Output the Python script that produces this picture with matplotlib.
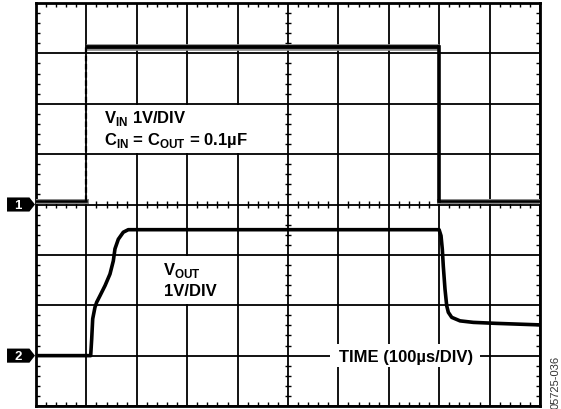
import numpy as np
import matplotlib.pyplot as plt
from matplotlib.patches import Polygon, Rectangle

plt.rcParams["font.family"] = ["Liberation Sans", "DejaVu Sans"]
plt.rcParams["mathtext.fontset"] = "custom"

# scope setup: 10 x 8 divisions, 100 us/div, 1 V/div on both channels
TIME_PER_DIV = 100
N_HDIV, N_VDIV = 10, 8
CH1_GND = 4.0   # ground level of channel 1, in divisions from the bottom
CH2_GND = 1.0   # ground level of channel 2

# channel 1: VIN step (us, V)
vin_t = [0, 100, 100, 800, 800, 1000]
vin_v = [0.06, 0.06, 3.13, 3.13, 0.06, 0.06]

# channel 2: VOUT response (us, V)
vout_t = [0, 108.5, 110.5, 112.5, 117, 120.4, 127, 137, 146.8, 153.4, 156.7,
          163.3, 173.2, 183.1, 799.8, 803.6, 806.2, 808.1, 811.5, 814.9,
          818.1, 824.8, 841.3, 867.7, 914.1, 1000]
vout_v = [0.0, 0.0, 0.33, 0.73, 0.96, 1.06, 1.19, 1.39, 1.62, 1.88, 2.12,
          2.31, 2.45, 2.50, 2.50, 2.38, 2.11, 1.78, 1.32, 0.99,
          0.86, 0.76, 0.69, 0.66, 0.64, 0.61]

fig = plt.figure(figsize=(5.61, 4.10), dpi=100)
ax = fig.add_axes([36 / 561, 3 / 410, 504 / 561, 403 / 410])
t_max = N_HDIV * TIME_PER_DIV
ax.set_xlim(0, t_max)
ax.set_ylim(0, N_VDIV)

# graticule
ax.set_xticks(np.arange(0, t_max + 1, TIME_PER_DIV))
ax.set_yticks(np.arange(0, N_VDIV + 1))
ax.set_xticks(np.arange(0, t_max + 1, TIME_PER_DIV / 5), minor=True)
ax.set_yticks(np.arange(0, N_VDIV + 0.01, 0.2), minor=True)
ax.grid(True, which="major", color="black", lw=1.3, zorder=1)
ax.tick_params(which="major", length=0, labelbottom=False, labelleft=False)
ax.tick_params(which="minor", direction="in", length=3.2, width=1.0,
               top=True, right=True, color="black")
for s in ax.spines.values():
    s.set_linewidth(2.0)

# tick marks along the centre cross
mx = np.arange(0, t_max + 1, TIME_PER_DIV / 5)
mx = mx[mx % TIME_PER_DIV != 0]
my = np.arange(0, N_VDIV + 0.01, 0.2)
my = my[np.abs(my - np.round(my)) > 1e-6]
ax.vlines(mx, N_VDIV / 2 - 0.065, N_VDIV / 2 + 0.065, color="black", lw=1.0, zorder=1)
ax.hlines(my, t_max / 2 - 6.5, t_max / 2 + 6.5, color="black", lw=1.0, zorder=1)

# label backgrounds
for (x0, y0, w, h) in [(104, 5.03, 340, 0.94), (204, 2.03, 192, 0.94), (583, 0.77, 298, 0.46)]:
    ax.add_patch(Rectangle((x0, y0), w, h, facecolor="white", edgecolor="none", zorder=2))

# channel 1 trace
y1 = [CH1_GND + v for v in vin_v]
ax.plot(vin_t[2:4], y1[2:4], color="#8a8a8a", lw=4.8, zorder=3, solid_capstyle="butt")
ax.plot(vin_t[2:4], y1[2:4], color="black", lw=2.7, zorder=4, solid_capstyle="butt")
for a, b in [(0, 2), (4, 6)]:
    ax.plot(vin_t[a:b], y1[a:b], color="#8a8a8a", lw=3.6, zorder=3)
    ax.plot(vin_t[a:b], y1[a:b], color="black", lw=1.8, zorder=4)
ax.plot(vin_t[1:3], y1[1:3], color="black", lw=1.6, ls=(0, (2.5, 1.2)), zorder=4)
ax.plot(vin_t[3:5], y1[3:5], color="black", lw=2.6, zorder=4)

# channel 2 trace
y2 = [CH2_GND + v for v in vout_v]
ax.plot(vout_t, y2, color="black", lw=2.6, zorder=4, solid_joinstyle="round")

# annotations
txt = dict(fontsize=12, fontweight="bold", color="black", zorder=5, va="baseline")
ax.text(134, 5.63, r"V$_\mathregular{IN}$ 1V/DIV", **txt)
ax.text(134, 5.21, r"C$_\mathregular{IN}$ = C$_\mathregular{OUT}$ = 0.1µF", **txt)
ax.text(251, 2.62, r"V$_\mathregular{OUT}$", **txt)
ax.text(253, 2.20, "1V/DIV", **txt)
ax.text(735, 0.90, "TIME (100µs/DIV)", ha="center", **txt)

# channel ground tags
for gnd, name in [(CH1_GND, "1"), (CH2_GND, "2")]:
    pts = [(-57.5, gnd - 0.14), (-13, gnd - 0.14), (-2, gnd),
           (-13, gnd + 0.14), (-57.5, gnd + 0.14)]
    ax.add_patch(Polygon(pts, closed=True, facecolor="black", edgecolor="none",
                         clip_on=False, zorder=6))
    ax.text(-36, gnd - 0.01, name, color="white", fontsize=9.5, fontweight="bold",
            ha="center", va="center", clip_on=False, zorder=7)

fig.text(556 / 561, 1 - 382 / 410, "05725-036", rotation=90, fontsize=8,
         color="#333333", ha="center", va="center")

fig.savefig("out.png", dpi=100)
